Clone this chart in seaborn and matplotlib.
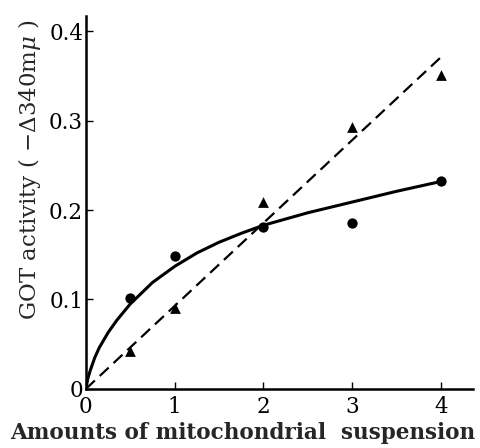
import matplotlib
matplotlib.use("Agg")
import matplotlib.pyplot as plt
import seaborn as sns
import pandas as pd

# data
circle_x = [0.5, 1, 2, 3, 4]
circle_y = [0.102, 0.149, 0.181, 0.186, 0.233]
tri_x = [0.5, 1, 2, 3, 4]
tri_y = [0.042, 0.090, 0.209, 0.293, 0.351]
dash_x = [0, 4]
dash_y = [0.0, 0.371]
curve_x = [0, 0.02, 0.05, 0.1, 0.15, 0.25, 0.35, 0.5, 0.75, 1.0, 1.25, 1.5,
           1.75, 2.0, 2.5, 3.0, 3.5, 4.0]
curve_y = [0, 0.011, 0.021, 0.035, 0.046, 0.063, 0.077, 0.095, 0.119, 0.137,
           0.152, 0.164, 0.174, 0.183, 0.197, 0.209, 0.221, 0.232]
xticks = [0, 1, 2, 3, 4]
xticklabels = ["0", "1", "2", "3", "4"]
yticks = [0, 0.1, 0.2, 0.3, 0.4]
yticklabels = ["0", "0.1", "0.2", "0.3", "0.4"]

sns.set_style("ticks")
plt.rcParams["font.family"] = ["DejaVu Serif"]
plt.rcParams["mathtext.fontset"] = "dejavuserif"

fig = plt.figure(figsize=(4.8, 4.48), dpi=100)
ax = fig.add_axes([0.179, 0.132, 0.806, 0.832])

sns.lineplot(x=curve_x, y=curve_y, ax=ax, color="black", linewidth=2.2,
             sort=False, estimator=None)
sns.lineplot(x=dash_x, y=dash_y, ax=ax, color="black", linewidth=1.6,
             sort=False, estimator=None, dashes=False, linestyle=(0, (5.5, 3)))
sns.scatterplot(x=circle_x, y=circle_y, ax=ax, marker="o", color="black",
                s=55, edgecolor="black", linewidth=0, zorder=5)
sns.scatterplot(x=tri_x, y=tri_y, ax=ax, marker="^", color="black",
                s=60, edgecolor="black", linewidth=0, zorder=5)

ax.set_xlim(0, 4.36)
ax.set_ylim(0, 0.417)
ax.set_xticks(xticks)
ax.set_xticklabels(xticklabels)
ax.set_yticks(yticks)
ax.set_yticklabels(yticklabels)
sns.despine(ax=ax)
for s in ["left", "bottom"]:
    ax.spines[s].set_linewidth(1.8)
    ax.spines[s].set_color("black")
ax.tick_params(direction="in", length=5, width=1, colors="black",
               labelsize=15.5)
ax.tick_params(axis="x", pad=5)
ax.tick_params(axis="y", pad=2)
ax.set_xlabel("Amounts of mitochondrial  suspension", fontsize=15.5,
              fontweight="bold")
ax.xaxis.set_label_coords(0.405, -0.09)
ax.set_ylabel(r"GOT activity ( $-\mathit{\Delta}$340m$\mathit{\mu}$ )",
              fontsize=16.5)
ax.yaxis.set_label_coords(-0.112, 0.587)
fig.savefig("out.png", dpi=100)
